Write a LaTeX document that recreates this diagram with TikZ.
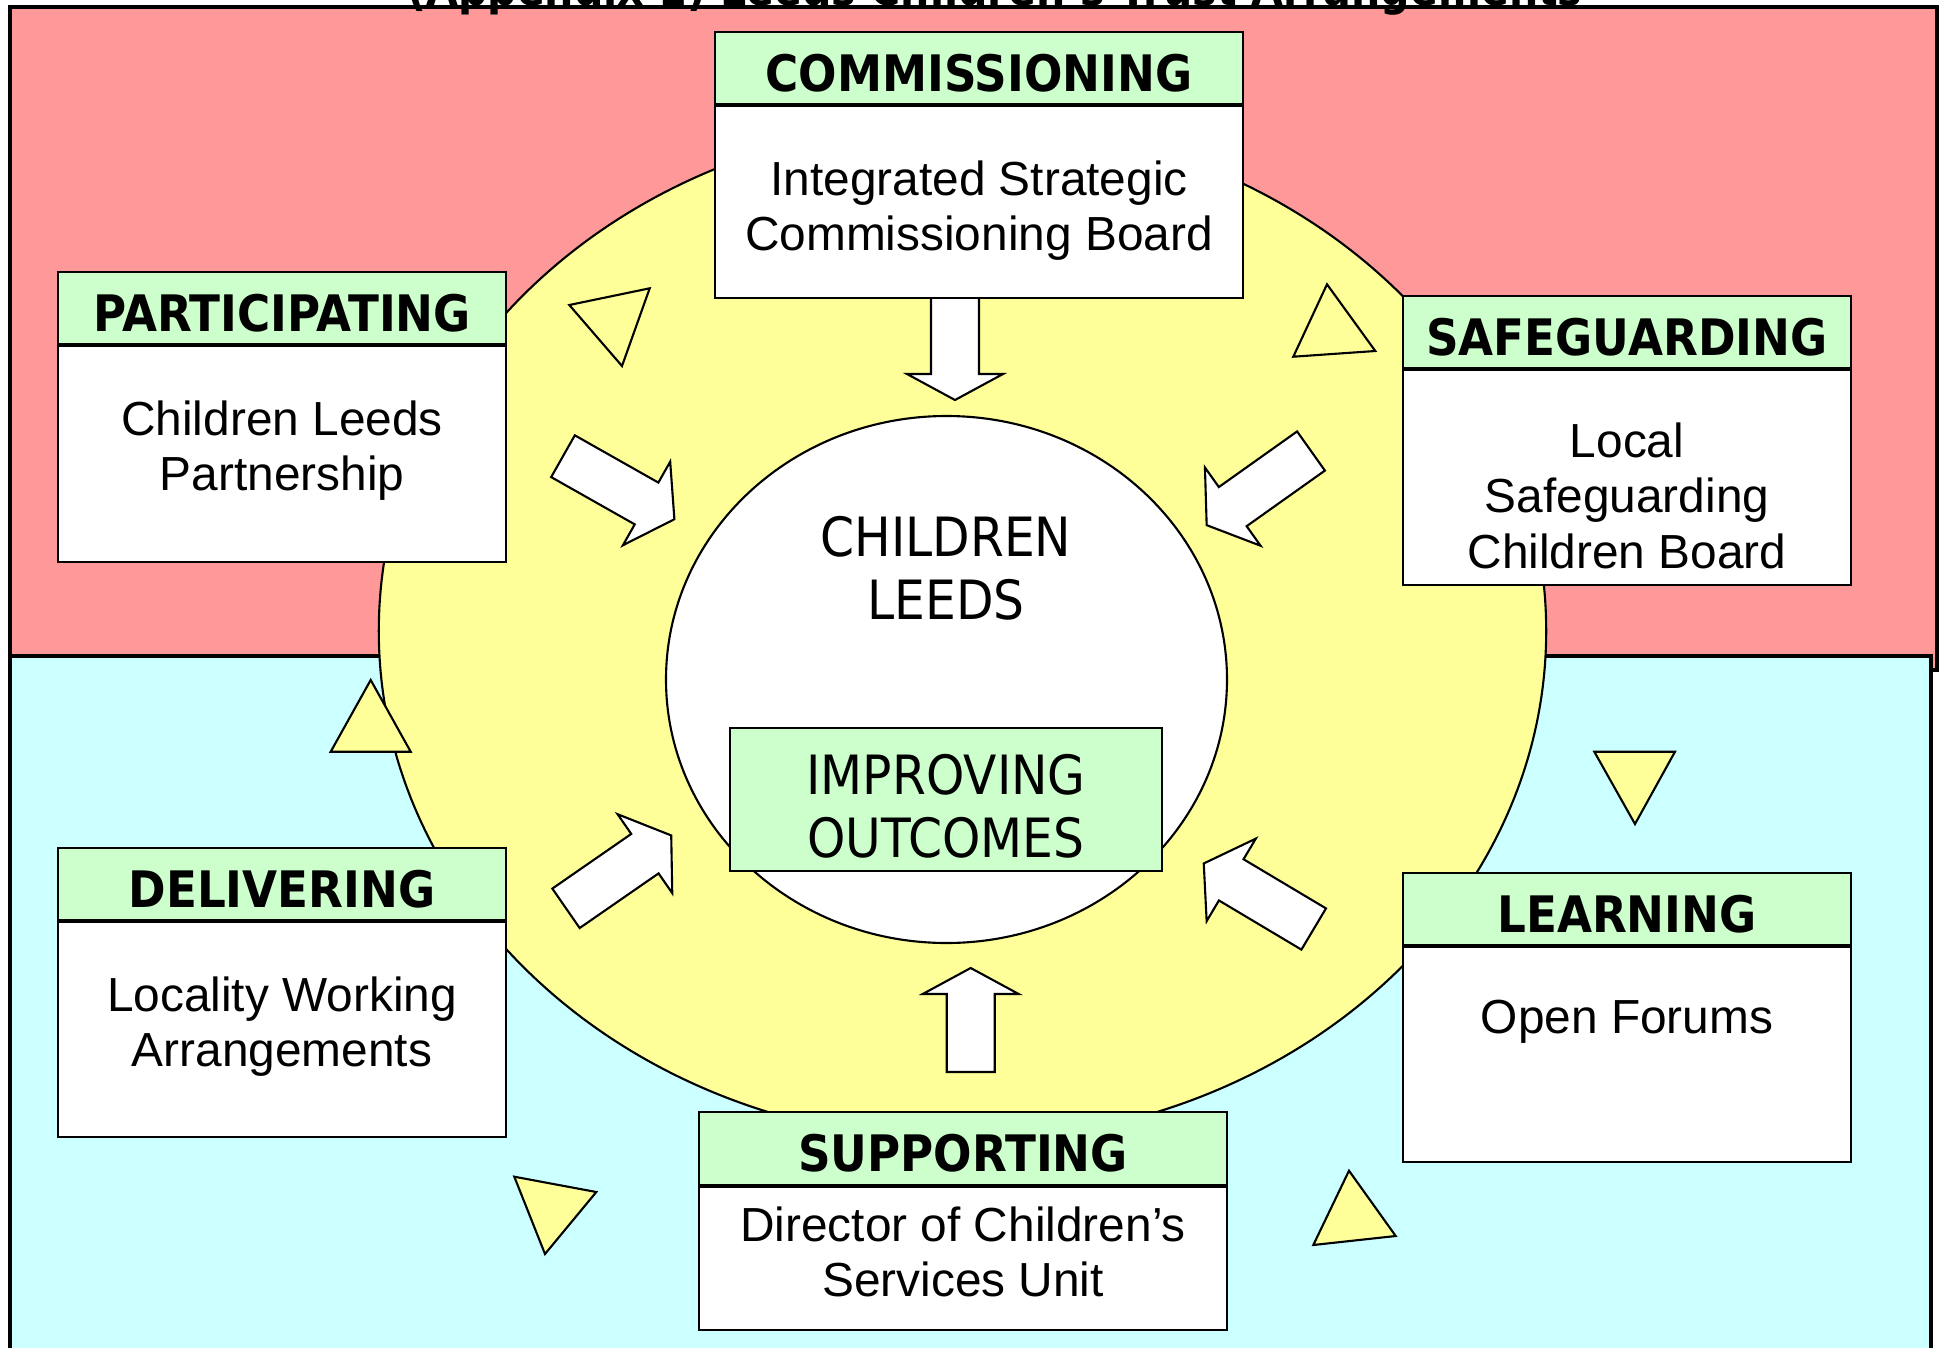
\documentclass[tikz,border=0pt]{standalone}
\usepackage{fontspec}
\setmainfont{Liberation Sans}
\newfontfamily\tahoma[FakeStretch=0.9]{DejaVu Sans}
\usetikzlibrary{positioning}

\definecolor{pinkbg}{HTML}{FF9999}
\definecolor{cyanbg}{HTML}{CCFFFF}
\definecolor{ringyellow}{HTML}{FFFF99}
\definecolor{headgreen}{HTML}{CCFFCC}

% tail x, tail y, angle, length, head length
\newcommand{\blockarrow}[5]{%
  \draw[arrowbox, shift={(#1,#2)}, rotate=#3] (0,-24) -- (#4-#5,-24) -- (#4-#5,-48) -- (#4,0)
    -- (#4-#5,48) -- (#4-#5,24) -- (0,24) -- cycle;}

\begin{document}
\begin{tikzpicture}[x=0.01cm, y=-0.01cm, line width=0.6pt,
    headbox/.style = {draw, fill=headgreen, inner sep=0pt, minimum height=0.72cm, text height=13.2pt, text depth=0pt,
      font=\tahoma\bfseries\fontsize{14.3}{16}\selectfont},
    bodybox/.style = {draw, fill=white, inner sep=0pt},
    bodytext/.style = {anchor=north, align=center, inner sep=0pt, font=\fontsize{13.6}{15.7}\selectfont},
    wide/.style = {minimum width=5.28cm},
    narrow/.style = {minimum width=4.48cm},
    yellowtri/.style = {draw, fill=ringyellow},
    arrowbox/.style = {draw, fill=white},
    centretext/.style = {align=center, inner sep=0pt, font=\tahoma\fontsize{15.4}{18}\selectfont}]
  \useasboundingbox (0,0) rectangle (1941,1348);

  % background halves
  \draw[fill=pinkbg, line width=1pt] (10,7) rectangle (1937,670);
  \draw[fill=cyanbg, line width=1pt] (10,656) rectangle (1931,1360);
  \node[anchor=base, font=\tahoma\bfseries\fontsize{13}{15}\selectfont] (title) at (995,5) {(Appendix 1) Leeds Children’s Trust Arrangements};

  % rings
  \draw[fill=ringyellow] (962.5,631) ellipse [x radius=583.7, y radius=510];
  \draw[fill=white] (946.5,679.5) ellipse [x radius=280.5, y radius=263.5];

  \node[centretext] (children) at (946,568) {CHILDREN\\LEEDS};
  \node[draw, fill=headgreen, minimum width=4.32cm, minimum height=1.43cm] (outcomes) at (946,799.5) {};
  \node[centretext] (outcomestext) at (946,806.5) {IMPROVING\\OUTCOMES};

  % triangles
  \draw[yellowtri] (569.3,305) -- (649.7,288.3) -- (622,366) -- cycle;
  \draw[yellowtri] (1327,284.3) -- (1375.3,351) -- (1293.3,356.7) -- cycle;
  \draw[yellowtri] (370.7,680) -- (410.7,751.7) -- (330.7,751.7) -- cycle;
  \draw[yellowtri] (1594.3,751.7) -- (1675,751.7) -- (1635,824) -- cycle;
  \draw[yellowtri] (514.3,1176.7) -- (596.3,1192) -- (545,1254) -- cycle;
  \draw[yellowtri] (1349,1170.7) -- (1395.7,1236) -- (1313.3,1245) -- cycle;

  % arrows
  \blockarrow{955}{296}{-90}{104}{26}
  \blockarrow{970.7}{1072}{90}{104}{26}
  \blockarrow{563}{456.2}{-29.5}{128}{32}
  \blockarrow{1311}{451}{215.4}{128}{32}
  \blockarrow{566}{908.3}{34.7}{128}{32}
  \blockarrow{1313.7}{929}{149.2}{128}{32}

  % boxes
  \node[headbox, wide] (commhead) at (979,68) {COMMISSIONING};
  \node[bodybox, wide, minimum height=1.92cm, below=0pt of commhead] (commbody) {};
  \node[bodytext] (commtext) at (979,160) {Integrated Strategic\\Commissioning Board};

  \node[headbox, narrow] (parthead) at (282,308) {PARTICIPATING};
  \node[bodybox, narrow, minimum height=2.16cm, below=0pt of parthead] (partbody) {};
  \node[bodytext] (parttext) at (282,400) {Children Leeds\\Partnership};

  \node[headbox, narrow] (safehead) at (1627,332) {SAFEGUARDING};
  \node[bodybox, narrow, minimum height=2.15cm, below=0pt of safehead] (safebody) {};
  \node[bodytext] (safetext) at (1627,422) {Local\\Safeguarding\\Children Board};

  \node[headbox, narrow] (delihead) at (282,884) {DELIVERING};
  \node[bodybox, narrow, minimum height=2.15cm, below=0pt of delihead] (delibody) {};
  \node[bodytext] (delitext) at (282,976) {Locality Working\\Arrangements};

  \node[headbox, narrow] (learnhead) at (1627,909) {LEARNING};
  \node[bodybox, narrow, minimum height=2.15cm, below=0pt of learnhead] (learnbody) {};
  \node[bodytext] (learntext) at (1627,999) {Open Forums};

  \node[headbox, wide, minimum height=0.73cm] (supphead) at (963,1148.5) {SUPPORTING};
  \node[bodybox, wide, minimum height=1.43cm, below=0pt of supphead] (suppbody) {};
  \node[bodytext] (supptext) at (963,1206) {Director of Children’s\\Services Unit};
\end{tikzpicture}
\end{document}
